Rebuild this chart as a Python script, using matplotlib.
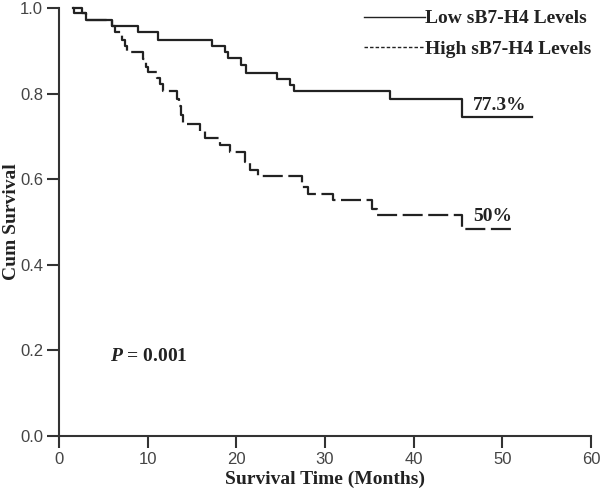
import numpy as np
from matplotlib import pyplot as plt
from matplotlib.lines import Line2D

plt.rcParams['mathtext.fontset'] = 'custom'
plt.rcParams['mathtext.it'] = 'Liberation Serif:italic:bold'
plt.rcParams['mathtext.rm'] = 'Liberation Serif:bold'

# Kaplan-Meier steps (months, cumulative survival)
low_t = [1.6, 2.6, 3.0, 6.0, 8.9, 11.2, 17.3, 18.7, 19.1, 20.5, 21.1,
         24.6, 26.0, 26.5, 37.3, 45.5, 53.3]
low_s = [1.0, 0.989, 0.971, 0.957, 0.943, 0.924, 0.910, 0.896, 0.882, 0.866,
         0.849, 0.835, 0.819, 0.805, 0.786, 0.744, 0.744]

high_t = [1.6, 1.7, 3.0, 6.0, 6.3, 7.1, 7.4, 7.7, 9.5, 9.8, 10.0, 11.1, 11.4,
          11.7, 13.3, 13.5, 13.8, 14.0, 15.9, 16.5, 18.2, 19.3, 21.0, 21.5,
          22.4, 27.4, 28.1, 30.9, 35.3, 35.9, 45.5, 51.1]
high_s = [1.0, 0.989, 0.971, 0.957, 0.943, 0.926, 0.910, 0.896, 0.880, 0.863,
          0.851, 0.837, 0.823, 0.805, 0.788, 0.770, 0.750, 0.728, 0.713, 0.697,
          0.680, 0.664, 0.640, 0.622, 0.608, 0.582, 0.565, 0.551, 0.530, 0.516,
          0.484, 0.484]

labels = ['Low sB7-H4 Levels', 'High sB7-H4 Levels']
end_text = ['77.3%', '50%']
p_text = r'$P$ = 0.001'

serif = 'Liberation Serif'
sans = 'Liberation Sans'
dark = '#222222'
axis_col = '#333333'
tick_col = '#444444'

fig = plt.figure(figsize=(6, 4.9), dpi=100)
ax = fig.add_axes([0.0983, 0.111, 0.8867, 0.8727])

ax.step(low_t, low_s, where='post', color=dark, lw=1.6, clip_on=False)
ax.step(high_t, high_s, where='post', color=dark, lw=1.6,
        linestyle=(0, (9, 2.5)), clip_on=False)

# end-of-curve percentages
ax.text(46.7, low_s[-1] + 0.008, end_text[0], fontsize=14, fontweight='bold',
        family=serif, color=dark, va='bottom', ha='left')
ax.text(46.7, high_s[-1] + 0.008, end_text[1], fontsize=14, fontweight='bold',
        family=serif, color=dark, va='bottom', ha='left')

ax.text(5.7, 0.184, p_text, fontsize=14, fontweight='bold',
        family=serif, color=dark, va='center', ha='left')

ax.set_xlim(0, 60)
ax.set_ylim(0, 1.0)
ax.set_xticks(np.arange(0, 61, 10))
ax.set_yticks(np.arange(0, 1.01, 0.2))
ax.set_yticklabels(['0.0', '0.2', '0.4', '0.6', '0.8', '1.0'])

for side in ['top', 'right']:
    ax.spines[side].set_visible(False)
for side in ['left', 'bottom']:
    ax.spines[side].set_linewidth(1.5)
    ax.spines[side].set_color(axis_col)
ax.tick_params(length=8.5, width=1.5, color=axis_col, labelcolor=tick_col,
               labelsize=12, pad=3)
for lab in ax.get_xticklabels() + ax.get_yticklabels():
    lab.set_family(sans)

ax.set_xlabel('Survival Time (Months)', fontsize=14, fontweight='bold',
              family=serif, color=dark, labelpad=3)
ax.set_ylabel('Cum Survival', fontsize=14, fontweight='bold',
              family=serif, color=dark)
ax.yaxis.set_label_coords(-0.073, 0.5)

handles = [Line2D([], [], color=dark, lw=1.0),
           Line2D([], [], color=dark, lw=1.0, linestyle=(0, (2.5, 1.5)))]
leg = fig.legend(handles, labels, loc='upper right',
                 bbox_to_anchor=(0.985, 0.98), frameon=False,
                 prop={'family': serif, 'weight': 'bold', 'size': 14},
                 handlelength=3.1, handletextpad=0.0, labelspacing=0.65,
                 borderpad=0, borderaxespad=0)
for t in leg.get_texts():
    t.set_color(dark)

plt.savefig('out.png', dpi=100)
